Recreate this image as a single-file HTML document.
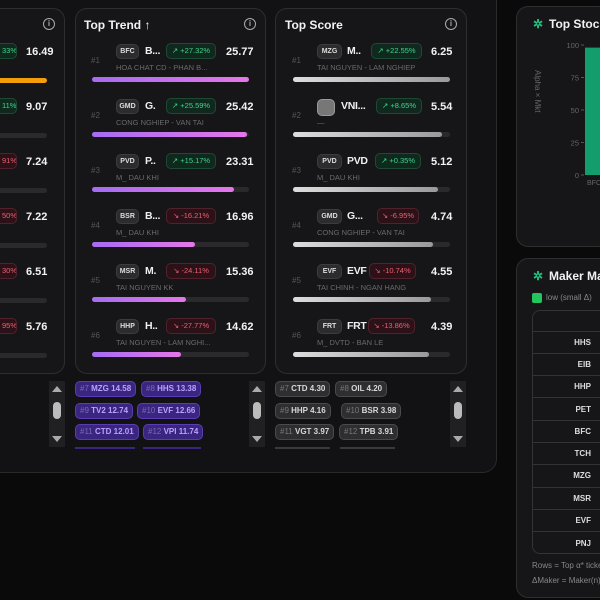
<!DOCTYPE html>
<html><head><meta charset="utf-8">
<style>
*{box-sizing:border-box;margin:0;padding:0}
body{width:600px;height:600px;overflow:hidden;background:#0a0a0b;font-family:"Liberation Sans",sans-serif;color:#eee;position:relative}
.abs{position:absolute}
.outer{left:0;top:0;width:497px;height:473px;background:#121214;border:1px solid #2a2a2d;border-left:none;border-top:none;border-radius:0 0 14px 0}
.card{background:#161618;border:1px solid #2e2e31;border-radius:12px}
.title{font-size:12px;font-weight:bold;color:#f2f2f2;white-space:nowrap}
.info{width:12px;height:12px;border:1.3px solid #aaa;border-radius:50%;font-size:8px;color:#aaa;text-align:center;line-height:10px;font-weight:bold}
.rank{font-size:8px;color:#555}
.tk{height:15px;border-radius:5px;background:#2c2c2f;border:1px solid #3c3c40;font-size:7px;font-weight:bold;color:#ddd;text-align:center;line-height:13px}
.nm{font-size:10.5px;font-weight:bold;color:#f0f0f0;letter-spacing:-0.3px;white-space:nowrap}
.pill{height:16px;border-radius:5px;font-size:7.5px;line-height:14px;padding:0 5px;white-space:nowrap}
.up{background:#10291e;border:1px solid #1d4a33;color:#3fd58a}
.dn{background:#2c1218;border:1px solid #50222b;color:#ef5f6f}
.sub{font-size:7.5px;color:#6a6a6e;white-space:nowrap}
.val{font-size:11px;font-weight:bold;color:#f2f2f2}
.track{height:5px;border-radius:3px;background:#2a2a2d}
.fill{height:5px;border-radius:3px}
.chip{height:16px;border-radius:5px;font-size:8px;line-height:14px;padding:0 4px;white-space:nowrap;font-weight:bold}
.pc{background:#3a2680;border:1px solid #5a3db0;color:#b9a2ff}
.gc{background:#2e2e31;border:1px solid #4a4a4e;color:#d8d8d8}
.chip span{color:#7a6ab0;font-weight:normal}
.gc span{color:#777}
.scr{width:16px;height:66px;background:#202023}
.scr .u,.scr .d{position:absolute;left:3px;width:0;height:0;border-left:5px solid transparent;border-right:5px solid transparent}
.scr .u{top:5px;border-bottom:6px solid #aaa}
.scr .d{bottom:5px;border-top:6px solid #aaa}
.scr .th{position:absolute;left:4px;top:21px;width:8px;height:17px;border-radius:4px;background:#bbb}
.tbl td{height:22.3px;border-top:1px solid #333;font-size:8px;font-weight:bold;color:#ddd;text-align:right;padding-right:9px}
.rcard{border-right:none;border-radius:12px 0 0 12px}
</style></head><body>
<div class="abs outer"></div>

<div class="abs card" style="left:0;top:8px;width:65px;height:366px;border-left:none;border-radius:0 12px 12px 0"></div>
<div class="abs info" style="left:43px;top:18px">i</div>

<div class="abs card" style="left:75px;top:8px;width:191px;height:366px"></div>
<div class="abs title" style="left:84px;top:18px">Top Trend ↑</div>
<div class="abs info" style="left:244px;top:18px">i</div>

<div class="abs card" style="left:275px;top:8px;width:192px;height:366px"></div>
<div class="abs title" style="left:285px;top:18px">Top Score</div>
<div class="abs info" style="left:445px;top:18px">i</div>

<div class="abs card rcard" style="left:516px;top:6px;width:84px;height:241px;overflow:hidden"></div>
<div class="abs title" style="left:533px;top:17px;color:#20c080">✲</div>
<div class="abs title" style="left:549px;top:17px;width:51px;overflow:hidden">Top Stocks</div>
<svg id="chart" class="abs" style="left:516px;top:30px" width="84" height="170"></svg>

<div class="abs card rcard" style="left:516px;top:258px;width:84px;height:340px"></div>
<div class="abs title" style="left:533px;top:269px;color:#20c080">✲</div>
<div class="abs title" style="left:549px;top:269px;width:51px;overflow:hidden">Maker Matrix</div>
<div class="abs" style="left:532px;top:293px;width:10px;height:10px;background:#22c55e;border-radius:2px"></div>
<div class="abs sub" style="left:546px;top:293px;font-size:8px;color:#888;width:54px;overflow:hidden">low (small Δ)</div>
<div class="abs" style="left:532px;top:310px;width:68px;height:244px;border:1px solid #333;border-right:none;border-radius:8px 0 0 8px;overflow:hidden">
<table class="tbl" style="border-collapse:collapse;width:100%;margin-top:-1px" id="mtbl"></table></div>
<div class="abs sub" style="left:532px;top:561px;font-size:8px;color:#888;width:68px;overflow:hidden">Rows = Top α* tickers</div>
<div class="abs sub" style="left:532px;top:576px;font-size:8px;color:#888;width:68px;overflow:hidden">ΔMaker = Maker(n)</div>

<div id="rows"></div>

<script>
const trendTk=["BFC","GMD","PVD","BSR","MSR","HHP"];
const trendNm=["B...","G.","P..","B...","M.","H.."];
const trendSub=["HOA CHAT CD - PHAN B...","CONG NGHIEP - VAN TAI","M_ DAU KHI","M_ DAU KHI","TAI NGUYEN KK","TAI NGUYEN - LAM NGHI..."];
const trendPct=[27.32,25.59,15.17,-16.21,-24.11,-27.77];
const trendVal=[25.77,25.42,23.31,16.96,15.36,14.62];
const scoreTk=["MZG","","PVD","GMD","EVF","FRT"];
const scoreNm=["M..","VNI...","PVD","G...","EVF","FRT"];
const scoreSub=["TAI NGUYEN - LAM NGHIEP","—","M_ DAU KHI","CONG NGHIEP - VAN TAI","TAI CHINH - NGAN HANG","M_ DVTD - BAN LE"];
const scorePct=[22.55,8.65,0.35,-6.95,-10.74,-13.86];
const scoreVal=[6.25,5.54,5.12,4.74,4.55,4.39];
const scoreMin=-7.95;
const leftPct=[0.33,0.11,-0.91,-0.5,-0.30,-0.95];
const leftVal=[16.49,9.07,7.24,7.22,6.51,5.76];
const trendChips=[["#7","MZG",14.58],["#8","HHS",13.38],["#9","TV2",12.74],["#10","EVF",12.66],["#11","CTD",12.01],["#12","VPI",11.74]];
const scoreChips=[["#7","CTD",4.30],["#8","OIL",4.20],["#9","HHP",4.16],["#10","BSR",3.98],["#11","VGT",3.97],["#12","TPB",3.91]];
const makerRows=["HHS","EIB","HHP","PET","BFC","TCH","MZG","MSR","EVF","PNJ"];
const stockCats=["BFC"];
const stockVals=[98];
const yTicks=[0,25,50,75,100];

const root=document.getElementById('rows');
function mk(cls,style,html){const d=document.createElement('div');d.className='abs '+cls;d.setAttribute('style',style);if(html!==undefined)d.innerHTML=html;root.appendChild(d);return d;}
function pct(p){return (p>=0?'↗ +':'↘ ')+p.toFixed(2)+'%';}

for(let i=0;i<6;i++){
 const y=43+i*55;
 let e=mk('pill '+(leftPct[i]>=0?'up':'dn'),`left:0;top:${y}px;width:17px;padding:0 2px;text-align:right;border-left:none;border-radius:0 5px 5px 0;overflow:hidden`,(leftPct[i]>=0?'':'')+String(Math.round(Math.abs(leftPct[i])*100)).padStart(2,'0')+'%');
 
 
 e=mk('val',`left:26px;top:${y+3}px`,leftVal[i].toFixed(2));
 
 
 e=mk('track',`left:0;top:${y+35}px;width:47px;border-radius:0 3px 3px 0;${i==0?'background:#f59e0b':''}`);
 
 

 e=mk('rank',`left:91px;top:${y+13}px`,'#'+(i+1));
 
 
 e=mk('tk',`left:116px;top:${y+1}px;width:23px`,trendTk[i]);
 
 
 e=mk('nm',`left:145px;top:${y+2}px`,trendNm[i]);
 
 
 e=mk('pill '+(trendPct[i]>=0?'up':'dn'),`left:166px;top:${y}px;width:50px;text-align:center;padding:0`,pct(trendPct[i]));
 
 
 e=mk('sub',`left:116px;top:${y+20}px`,trendSub[i]);
 
 
 e=mk('val',`left:226px;top:${y+3}px`,trendVal[i].toFixed(2));
 
 
 e=mk('track',`left:92px;top:${y+34}px;width:157px`);
 
 
 e=mk('fill',`left:92px;top:${y+34}px;width:${157*trendVal[i]/Math.max(...trendVal)}px;background:linear-gradient(90deg,#a56cf2,#e676ea)`);
 
 

 e=mk('rank',`left:292px;top:${y+13}px`,'#'+(i+1));
 
 
 if(scoreTk[i]){e=mk('tk',`left:317px;top:${y+1}px;width:25px`,scoreTk[i]);}
 else{e=mk('tk',`left:317px;top:${y+1}px;width:18px;height:17px;background:#777;border-color:#999`,'');}
 
 
 e=mk('nm',`left:${i==1?341:347}px;top:${y+2}px`,scoreNm[i]);
 
 
 const px=[371,376,375,377,369,368][i];
 e=mk('pill '+(scorePct[i]>=0?'up':'dn'),`left:${px}px;top:${y}px;width:${[51,46,46,42,47,47][i]}px;text-align:center;padding:0`,pct(scorePct[i]));
 
 
 e=mk('sub',`left:317px;top:${y+20}px`,scoreSub[i]);
 
 
 e=mk('val',`left:431px;top:${y+3}px`,scoreVal[i].toFixed(2));
 
 
 e=mk('track',`left:293px;top:${y+34}px;width:157px`);
 
 
 const sm=Math.max(...scoreVal);
 e=mk('fill',`left:293px;top:${y+34}px;width:${157*(scoreVal[i]-scoreMin)/(sm-scoreMin)}px;background:linear-gradient(90deg,#ddd,#9a9a9e)`);
 
 
}

const cpos=[[0,0],[66,0],[0,22],[62,22],[0,43],[68,43]];
trendChips.forEach((c,i)=>{
 const e=mk('chip pc',`left:${75+cpos[i][0]}px;top:${381+cpos[i][1]}px`,`<span>${c[0]}</span> ${c[1]} ${c[2].toFixed(2)}`);
 
 
});
const gpos=[[0,0],[60,0],[0,22],[66,22],[0,43],[64,43]];
scoreChips.forEach((c,i)=>{
 const e=mk('chip gc',`left:${275+gpos[i][0]}px;top:${381+gpos[i][1]}px`,`<span>${c[0]}</span> ${c[1]} ${c[2].toFixed(2)}`);
 
 
});
[49,249,450].forEach(x=>{
 const e=mk('scr',`left:${x}px;top:381px`,'<div class="u"></div><div class="th"></div><div class="d"></div>');
 
 
});
[[75,60],[143,58],[275,55],[340,55]].forEach(p=>{
 const e=mk('',`left:${p[0]}px;top:447px;width:${p[1]}px;height:2px;background:${p[0]<200?'#3a2680':'#3a3a3d'}`);
 
 
});

const tb=document.getElementById('mtbl');
let tr=document.createElement('tr');tr.innerHTML='<td style="border-top:none;height:21px"></td>';tb.appendChild(tr);
makerRows.forEach(r=>{
 const t=document.createElement('tr');
 
 
 t.innerHTML='<td>'+r+'</td>';tb.appendChild(t);
});

const svg=document.getElementById('chart');
const NS='http://www.w3.org/2000/svg';
const y0=145,y1=15;
const yScale=v=>y0-(v/100)*(y0-y1);
const x0=69;
function el(t,a,txt){const e=document.createElementNS(NS,t);for(const k in a)e.setAttribute(k,a[k]);if(txt!==undefined)e.textContent=txt;svg.appendChild(e);return e;}
let e=el('text',{x:0,y:0,transform:'translate(19,40) rotate(90)','font-size':'8','fill':'#666','font-family':'Liberation Sans'},'Alpha × Mkt');


yTicks.forEach(t=>{
 const tx=el('text',{x:x0-6,y:yScale(t)+3,'font-size':'7.5','fill':'#666','text-anchor':'end','font-family':'Liberation Sans'},String(t));
 
 
 const ln=el('line',{x1:x0-4,x2:x0-1,y1:yScale(t),y2:yScale(t),stroke:'#555'});
 
 
});
stockCats.forEach((c,i)=>{
 const b=el('rect',{x:x0,y:yScale(stockVals[i]),width:15,height:y0-yScale(stockVals[i]),fill:'#139c6c'});
 
 
 const l=el('text',{x:x0+2,y:y0+10,'font-size':'7','fill':'#666','font-family':'Liberation Sans'},c);
 
 
});
</script>
</body></html>
